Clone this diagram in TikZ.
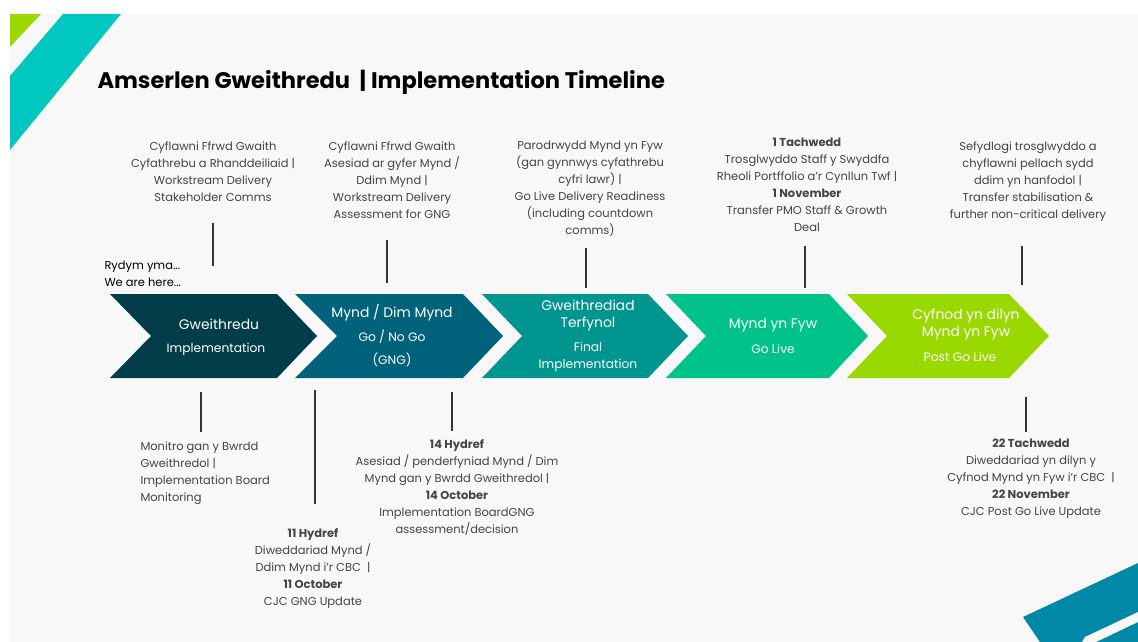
\documentclass[tikz,border=0pt]{standalone}
\usepackage{fontspec}
\setmainfont{Poppins}
\definecolor{panelgrey}{HTML}{F8F8F8}
\definecolor{cornerteal}{HTML}{00C8C0}
\definecolor{cornergreen}{HTML}{9ED800}
\definecolor{cornerblue}{HTML}{0089A7}
\definecolor{stepone}{HTML}{023E4A}
\definecolor{steptwo}{HTML}{00637B}
\definecolor{stepthree}{HTML}{00958F}
\definecolor{stepfour}{HTML}{00C389}
\definecolor{stepfive}{HTML}{9AD900}
\definecolor{notegrey}{HTML}{444444}
\definecolor{tickgrey}{HTML}{333333}

\tikzset{
  every picture/.style={line width=0.75pt},
  note/.style={align=center, text=notegrey, inner sep=0pt, font=\fontsize{8.6}{12.75}\selectfont},
  noteleft/.style={note, align=left},
  steplabel/.style={align=center, text=white, inner sep=0pt, font=\fontsize{9.2}{12.75}\selectfont},
  stephead/.style={steplabel, font=\fontsize{10.4}{12.75}\selectfont},
  tick/.style={draw=tickgrey, line width=1.5}
}

\begin{document}
\begin{tikzpicture}[x=0.75pt,y=0.75pt,yscale=-1,xscale=1]
	\useasboundingbox (0,0) rectangle (1138,642);
	\fill[white] (0,0) rectangle (1138,642);
	\fill[panelgrey] (10,14) rectangle (1138,642);

	%Shape: Corner stripes
	\fill[cornergreen] (10,14) -- (41,14) -- (10,47) -- cycle;
	\fill[cornerteal] (63,14) -- (121,14) -- (10,150) -- (10,76) -- cycle;
	\fill[cornerblue] (1023,617) -- (1138,563) -- (1138,642) -- (1040,642) -- cycle;
	\fill[panelgrey] (1085,637) -- (1138,612) -- (1138,622) -- (1096,642) -- (1082,642) -- cycle;

	% Title
	\node[anchor=west, inner sep=0pt, text=black, font=\fontsize{16.9}{20}\selectfont\bfseries] (title) at (97,82) {Amserlen Gweithredu \ | Implementation Timeline};

	%Shape: Chevrons
	\fill[stepone] (110,294) -- (277,294) -- (317,336) -- (277,378) -- (110,378) -- (151,336) -- cycle;
	\fill[steptwo] (295,294) -- (463,294) -- (503,336) -- (463,378) -- (295,378) -- (337,336) -- cycle;
	\fill[stepthree] (482,294) -- (648,294) -- (688,336) -- (648,378) -- (482,378) -- (522,336) -- cycle;
	\fill[stepfour] (666,294) -- (829,294) -- (868,336) -- (829,378) -- (666,378) -- (706,336) -- cycle;
	\fill[stepfive] (847,294) -- (1009,294) -- (1049,336) -- (1009,378) -- (847,378) -- (887,336) -- cycle;

	% Chevron labels
	\node[stephead] (s1a) at (219,324) {Gweithredu};
	\node[steplabel] (s1b) at (216,349) {Implementation};
	\node[stephead] (s2a) at (392,313) {Mynd / Dim Mynd};
	\node[steplabel] (s2b) at (392,337) {Go / No Go};
	\node[steplabel] (s2c) at (392,360) {(GNG)};
	\node[stephead] (s3a) at (588,316) {Gweithrediad\\Terfynol};
	\node[steplabel] (s3b) at (588,357) {Final\\Implementation};
	\node[stephead] (s4a) at (773,325) {Mynd yn Fyw};
	\node[steplabel] (s4b) at (773,349) {Go Live};
	\node[stephead] (s5a) at (966,324) {Cyfnod yn dilyn\\Mynd yn Fyw};
	\node[steplabel] (s5b) at (960,357) {Post Go Live};

	% Text Node
	\node[noteleft, text=black] (here) at (104,274) [anchor=west] {Rydym yma...\\We are here...};

	% Text Node
	\node[note] (n1) at (213,171.5) {Cyflawni Ffrwd Gwaith\\Cyfathrebu a Rhanddeiliaid |\\Workstream Delivery\\Stakeholder Comms};
	% Text Node
	\node[note] (n2) at (392,180) {Cyflawni Ffrwd Gwaith\\Asesiad ar gyfer Mynd /\\Ddim Mynd |\\Workstream Delivery\\Assessment for GNG};
	% Text Node
	\node[note] (n3) at (590,188.5) {Parodrwydd Mynd yn Fyw\\(gan gynnwys cyfathrebu\\cyfri lawr) |\\Go Live Delivery Readiness\\(including countdown\\comms)};
	% Text Node
	\node[note] (n4) at (807,184.5) {\textbf{1 Tachwedd}\\Trosglwyddo Staff y Swyddfa\\Rheoli Portffolio a'r Cynllun Twf |\\\textbf{1 November}\\Transfer PMO Staff \& Growth\\Deal};
	% Text Node
	\node[note] (n5) at (1028,182) {Sefydlogi trosglwyddo a\\chyflawni pellach sydd\\ddim yn hanfodol |\\Transfer stabilisation \&\\further non-critical delivery};

	% Text Node
	\node[noteleft, anchor=west] (n6) at (140,473.5) {Monitro gan y Bwrdd\\Gweithredol |\\Implementation Board\\Monitoring};
	% Text Node
	\node[note] (n7) at (313,568) {\textbf{11 Hydref}\\Diweddariad Mynd /\\Ddim Mynd i'r CBC \ |\\\textbf{11 October}\\CJC GNG Update};
	% Text Node
	\node[note] (n8) at (457,487.5) {\textbf{14 Hydref}\\Asesiad / penderfyniad Mynd / Dim\\Mynd gan y Bwrdd Gweithredol |\\\textbf{14 October}\\Implementation BoardGNG\\assessment/decision};
	% Text Node
	\node[note] (n9) at (1031,479) {\textbf{22 Tachwedd}\\Diweddariad yn dilyn y\\Cyfnod Mynd yn Fyw i'r CBC \ |\\\textbf{22 November}\\CJC Post Go Live Update};

	% Ticks
	\coordinate (t1a) at (213,223); \coordinate (t1b) at (213,266);
	\coordinate (t2a) at (387,240); \coordinate (t2b) at (387,283);
	\coordinate (t3a) at (586,248); \coordinate (t3b) at (586,288);
	\coordinate (t4a) at (805,246); \coordinate (t4b) at (805,288);
	\coordinate (t5a) at (1022,246); \coordinate (t5b) at (1022,285);
	\coordinate (t6a) at (201,392); \coordinate (t6b) at (201,432);
	\coordinate (t7a) at (315,390); \coordinate (t7b) at (315,504);
	\coordinate (t8a) at (452,392); \coordinate (t8b) at (452,431);
	\coordinate (t9a) at (1026,397); \coordinate (t9b) at (1026,432);
	\draw[tick] (t1a) -- (t1b);
	\draw[tick] (t2a) -- (t2b);
	\draw[tick] (t3a) -- (t3b);
	\draw[tick] (t4a) -- (t4b);
	\draw[tick] (t5a) -- (t5b);
	\draw[tick] (t6a) -- (t6b);
	\draw[tick] (t7a) -- (t7b);
	\draw[tick] (t8a) -- (t8b);
	\draw[tick] (t9a) -- (t9b);

\end{tikzpicture}
\end{document}
